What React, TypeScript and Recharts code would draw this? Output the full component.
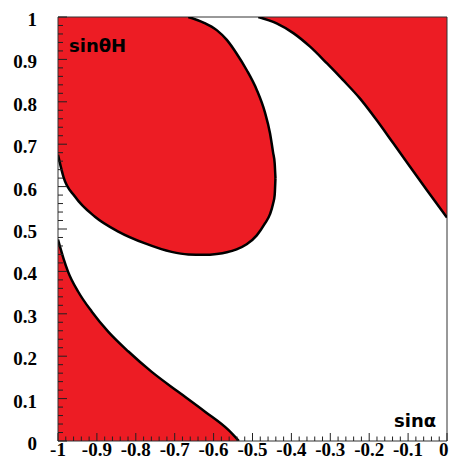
import React from "react";
import {
  ComposedChart,
  XAxis,
  YAxis,
  Area,
  Line,
  ReferenceLine,
} from "recharts";

// upper-left island: x, lower edge, upper edge
const blobX = [-1, -0.997, -0.986, -0.956, -0.905, -0.845, -0.776, -0.708, -0.665, -0.626, -0.592, -0.566, -0.541, -0.515, -0.489, -0.468, -0.455, -0.447, -0.443, -0.441];
const blobLow = [0.675, 0.663, 0.623, 0.576, 0.529, 0.494, 0.466, 0.446, 0.44, 0.439, 0.441, 0.445, 0.452, 0.464, 0.485, 0.513, 0.535, 0.56, 0.58, 0.62];
const blobHigh = [1, 1, 1, 1, 1, 1, 1, 1, 1, 0.987, 0.969, 0.946, 0.914, 0.875, 0.828, 0.775, 0.726, 0.68, 0.655, 0.62];

// upper-right region (filled up to 1)
const trX = [-0.485, -0.438, -0.395, -0.352, -0.309, -0.267, -0.224, -0.181, -0.138, -0.095, -0.052, 0];
const trY = [1, 0.985, 0.962, 0.93, 0.891, 0.851, 0.808, 0.757, 0.702, 0.647, 0.592, 0.527];

// lower-left region (filled down to 0)
const blX = [-1, -0.986, -0.974, -0.948, -0.913, -0.871, -0.819, -0.759, -0.691, -0.622, -0.562, -0.535];
const blY = [0.475, 0.431, 0.399, 0.352, 0.305, 0.258, 0.211, 0.163, 0.116, 0.069, 0.026, 0];

const xMajor = [-1, -0.9, -0.8, -0.7, -0.6, -0.5, -0.4, -0.3, -0.2, -0.1, 0];
const xMajorLabels = ["-1", "-0.9", "-0.8", "-0.7", "-0.6", "-0.5", "-0.4", "-0.3", "-0.2", "-0.1", "0"];
const yMajor = [0, 0.1, 0.2, 0.3, 0.4, 0.5, 0.6, 0.7, 0.8, 0.9, 1];
const yMajorLabels = ["0", "0.1", "0.2", "0.3", "0.4", "0.5", "0.6", "0.7", "0.8", "0.9", "1"];

// minor ticks every 0.02
const xTicks = Array.from({ length: 51 }, (_, k) => Math.round((-1 + k * 0.02) * 100) / 100);
const yTicks = Array.from({ length: 51 }, (_, k) => Math.round(k * 0.02 * 100) / 100);

const blobData = blobX.map((x, i) => ({ x, low: blobLow[i], high: blobHigh[i] }));
const blobTop = blobData.filter((d) => d.x >= -0.665);
const trData = trX.map((x, i) => ({ x, y: trY[i] }));
const blData = blX.map((x, i) => ({ x, y: blY[i] }));

const RED = "#ed1c24";
const tickFont = { fontFamily: "Liberation Serif", fontWeight: "bold" as const, fontSize: 19 };

const XTick = (props: any) => {
  const { x, y, payload } = props;
  const i = xMajor.findIndex((m) => Math.abs(m - payload.value) < 1e-9);
  const last = i === xMajor.length - 1;
  return (
    <g>
      <line x1={x} x2={x} y1={y} y2={y - (i >= 0 ? 8 : 4.5)} stroke="#222" />
      {i >= 0 && (
        <text
          x={last ? x + 1.5 : x}
          y={y + 15}
          textAnchor={last ? "end" : "middle"}
          fill="#000"
          {...tickFont}
        >
          {xMajorLabels[i]}
        </text>
      )}
    </g>
  );
};

const YTick = (props: any) => {
  const { x, y, payload } = props;
  const i = yMajor.findIndex((m) => Math.abs(m - payload.value) < 1e-9);
  return (
    <g>
      <line x1={x} x2={x + (i >= 0 ? 9 : 5)} y1={y} y2={y} stroke="#222" />
      {i >= 0 && (
        <text x={x - 21} y={y + 9} textAnchor="end" fill="#000" {...tickFont}>
          {yMajorLabels[i]}
        </text>
      )}
    </g>
  );
};

export default function App() {
  return (
    <div style={{ position: "absolute", left: 0, top: 0, width: 449, height: 460, background: "#fff" }}>
      <ComposedChart width={449} height={460} margin={{ top: 17, right: 2, bottom: 0, left: 0 }}>
        <XAxis
          dataKey="x"
          type="number"
          domain={[-1, 0]}
          allowDataOverflow
          ticks={xTicks}
          interval={0}
          tickSize={0}
          tickMargin={0}
          tickLine={false}
          tick={<XTick />}
          height={19}
          axisLine={{ stroke: "#333" }}
        />
        <YAxis
          type="number"
          domain={[0, 1]}
          allowDataOverflow
          ticks={yTicks}
          interval={0}
          tickSize={0}
          tickMargin={0}
          tickLine={false}
          tick={<YTick />}
          width={58}
          axisLine={{ stroke: "#333" }}
        />
        <Area
          data={trData}
          dataKey={(d: any) => [d.y, 1]}
          type="monotone"
          fill={RED}
          fillOpacity={1}
          stroke="none"
          isAnimationActive={false}
        />
        <Area
          data={blobData}
          dataKey={(d: any) => [d.low, d.high]}
          type="monotone"
          fill={RED}
          fillOpacity={1}
          stroke="none"
          isAnimationActive={false}
        />
        <Area
          data={blData}
          dataKey="y"
          baseValue={0}
          type="monotone"
          fill={RED}
          fillOpacity={1}
          stroke="none"
          isAnimationActive={false}
        />
        <ReferenceLine y={1} stroke="#333" strokeWidth={1} />
        <ReferenceLine x={0} stroke="#333" strokeWidth={1} />
        <Line data={trData} dataKey="y" type="monotone" stroke="#000" strokeWidth={2.5} dot={false} isAnimationActive={false} />
        <Line data={blobData} dataKey="low" type="monotone" stroke="#000" strokeWidth={2.5} dot={false} isAnimationActive={false} />
        <Line data={blobTop} dataKey="high" type="monotone" stroke="#000" strokeWidth={2.5} dot={false} isAnimationActive={false} />
        <Line data={blData} dataKey="y" type="monotone" stroke="#000" strokeWidth={2.5} dot={false} isAnimationActive={false} />
      </ComposedChart>
      <svg width={449} height={460} style={{ position: "absolute", left: 0, top: 0, pointerEvents: "none" }}>
        <text x={69} y={52} fontFamily="DejaVu Sans" fontWeight="bold" fontSize={18} fill="#000">
          sinθH
        </text>
        <text x={394} y={427} fontFamily="DejaVu Sans" fontWeight="bold" fontSize={18} fill="#000">
          sinα
        </text>
      </svg>
    </div>
  );
}
